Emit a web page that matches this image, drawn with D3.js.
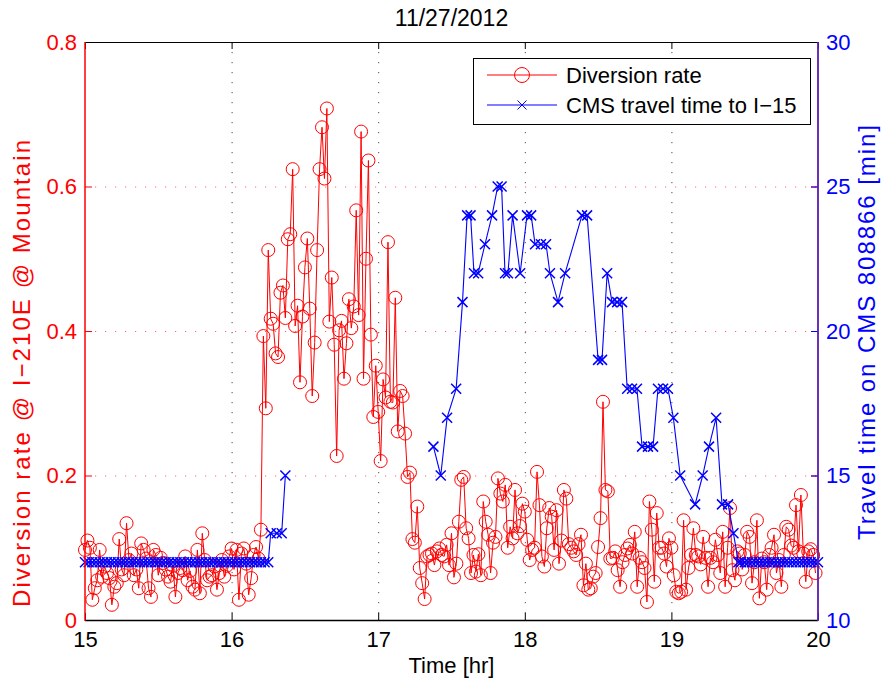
<!DOCTYPE html>
<html>
<head>
<meta charset="utf-8">
<script src="https://cdn.jsdelivr.net/npm/d3@7"></script>
<style>
  body { margin: 0; background: #fff; }
  svg text { font-family: "Liberation Sans", Arial, Helvetica, sans-serif; }
</style>
</head>
<body>
<svg id="chart" width="883" height="684"></svg>
<script>
// chart data
const chartTitle = '11/27/2012';
const startHour = 15;          // samples are minutes after 15:00

// diversion rate, one sample per minute from 15:00 to 19:59
const diversionRate = [
  0.097, 0.11, 0.1, 0.028, 0.044, 0.055, 0.097, 0.06, 0.074, 0.065,
  0.058, 0.021, 0.046, 0.051, 0.112, 0.07, 0.062, 0.134, 0.083, 0.092,
  0.062, 0.07, 0.044, 0.106, 0.097, 0.085, 0.044, 0.032, 0.097, 0.09,
  0.062, 0.086, 0.079, 0.07, 0.06, 0.053, 0.075, 0.032, 0.065, 0.072,
  0.069, 0.088, 0.055, 0.068, 0.046, 0.042, 0.097, 0.037, 0.12, 0.083,
  0.055, 0.06, 0.062, 0.074, 0.042, 0.065, 0.083, 0.06, 0.075, 0.088,
  0.099, 0.07, 0.097, 0.028, 0.092, 0.099, 0.078, 0.035, 0.058, 0.09,
  0.101, 0.085, 0.125, 0.393, 0.293, 0.512, 0.417, 0.41, 0.369, 0.364,
  0.453, 0.463, 0.418, 0.527, 0.534, 0.624, 0.407, 0.435, 0.329, 0.42,
  0.488, 0.528, 0.431, 0.31, 0.384, 0.512, 0.624, 0.682, 0.611, 0.708,
  0.413, 0.474, 0.381, 0.227, 0.401, 0.414, 0.334, 0.383, 0.444, 0.404,
  0.434, 0.567, 0.422, 0.676, 0.334, 0.5, 0.636, 0.395, 0.281, 0.352,
  0.288, 0.22, 0.333, 0.308, 0.523, 0.302, 0.301, 0.446, 0.261, 0.317,
  0.31, 0.258, 0.198, 0.204, 0.112, 0.107, 0.157, 0.072, 0.051, 0.029,
  0.088, 0.09, 0.092, 0.076, 0.095, 0.099, 0.09, 0.088, 0.104, 0.076,
  0.12, 0.059, 0.078, 0.136, 0.194, 0.198, 0.127, 0.113, 0.065, 0.09,
  0.067, 0.091, 0.062, 0.164, 0.136, 0.118, 0.065, 0.107, 0.115, 0.196,
  0.175, 0.164, 0.187, 0.1, 0.129, 0.113, 0.18, 0.12, 0.13, 0.161,
  0.15, 0.111, 0.083, 0.097, 0.1, 0.205, 0.159, 0.088, 0.074, 0.127,
  0.155, 0.143, 0.097, 0.152, 0.078, 0.11, 0.18, 0.168, 0.105, 0.1,
  0.095, 0.09, 0.105, 0.118, 0.048, 0.078, 0.042, 0.044, 0.06, 0.065,
  0.101, 0.141, 0.302, 0.18, 0.178, 0.085, 0.086, 0.095, 0.069, 0.046,
  0.08, 0.09, 0.099, 0.104, 0.092, 0.122, 0.046, 0.086, 0.08, 0.072,
  0.025, 0.164, 0.125, 0.053, 0.148, 0.1, 0.1, 0.092, 0.074, 0.113,
  0.1, 0.062, 0.039, 0.037, 0.039, 0.138, 0.042, 0.072, 0.09, 0.127,
  0.09, 0.088, 0.077, 0.115, 0.086, 0.046, 0.086, 0.08, 0.111, 0.09,
  0.065, 0.122, 0.046, 0.1, 0.155, 0.069, 0.055, 0.095, 0.092, 0.07,
  0.09, 0.122, 0.115, 0.051, 0.08, 0.138, 0.03, 0.085, 0.08, 0.042,
  0.09, 0.1, 0.118, 0.065, 0.083, 0.046, 0.09, 0.129, 0.125, 0.103,
  0.1, 0.159, 0.095, 0.173, 0.092, 0.053, 0.095, 0.098, 0.09, 0.065
];

// CMS travel time, irregular samples (minutes after 15:00); null = no data
const cmsMinutes = [
  0, 1.5, 3, 4.5, 6, 7.5, 9, 10.5, 12, 13.5,
  15, 16.5, 18, 19.5, 21, 22.5, 24, 25.5, 27, 28.5,
  30, 31.5, 33, 34.5, 36, 37.5, 39, 40.5, 42, 43.5,
  45, 46.5, 48, 49.5, 51, 52.5, 54, 55.5, 57, 58.5,
  60, 61.5, 63, 64.5, 66, 67.5, 69, 70.5, 72, 73.5,
  75,
  76, 78.5, 80.5, 82, 110,
  142.6, 145.6, 148.2, 151.9, 154.5, 156.4, 157.8, 159.2, 160.9, 163.7,
  166.6, 168.9, 170.5, 171.9, 173.1, 175, 178.1, 180.9, 182.6, 184.2,
  186.6, 188.7, 190.3, 193.6, 196.5, 203.4, 205.5, 210, 211.6, 213.7,
  215.7, 217.8, 219.8, 221.9, 223.9, 225.9, 228, 230.4, 232.5, 234.5,
  236.6, 238.6, 240.8, 243.6, 249.7, 252.8, 255.4, 258.3, 260.7, 263.2,
  265.4, 267.4,
  268.5, 270, 271.5, 273, 274.5, 276, 277.5, 279, 280.5, 282,
  283.5, 285, 286.5, 288, 289.5, 291, 292.5, 294, 295.5, 297,
  298.5, 300
];
const cmsTravelTime = [
  12, 12, 12, 12, 12, 12, 12, 12, 12, 12,
  12, 12, 12, 12, 12, 12, 12, 12, 12, 12,
  12, 12, 12, 12, 12, 12, 12, 12, 12, 12,
  12, 12, 12, 12, 12, 12, 12, 12, 12, 12,
  12, 12, 12, 12, 12, 12, 12, 12, 12, 12,
  12,
  13, 13, 13, 15, null,
  16, 15, 17, 18, 21, 24, 24, 22, 22, 23,
  24, 25, 25, 22, 22, 24, 22, 24, 24, 23,
  23, 23, 22, 21, 22, 24, 24, 19, 19, 22,
  21, 21, 21, 18, 18, 18, 16, 16, 16, 18,
  18, 18, 17, 15, 14, 15, 16, 17, 14, 14,
  13, 12,
  12, 12, 12, 12, 12, 12, 12, 12, 12, 12,
  12, 12, 12, 12, 12, 12, 12, 12, 12, 12,
  12, 12
];

const hourTicks = [15, 16, 17, 18, 19, 20];
const rateTicks = [0, 0.2, 0.4, 0.6, 0.8];
const minuteTicks = [10, 15, 20, 25, 30];
const legendNames = ['Diversion rate', 'CMS travel time to I\u221215'];
const leftLabel = 'Diversion rate @ I\u2212210E @ Mountain';
const rightLabel = 'Travel time on CMS 808866 [min]';

const RED = '#ff0000';
const BLUE = '#0000ff';
const FONT = 22;

const svg = d3.select('#chart');
const plotL = 85, plotR = 818, plotT = 42, plotB = 620;

const x = d3.scaleLinear().domain([15, 20]).range([plotL, plotR]);
const yRate = d3.scaleLinear().domain([0, 0.8]).range([plotB, plotT]);
const yTime = d3.scaleLinear().domain([10, 30]).range([plotB, plotT]);

const redPts = diversionRate.map((v, i) => ({ t: startHour + i / 60, v }));
const bluePts = cmsMinutes.map((m, i) => ({ t: startHour + m / 60, v: cmsTravelTime[i] }));

// grid (dotted)
const grid = svg.append('g');
grid.selectAll('line.gx')
  .data(hourTicks.slice(1, -1))
  .enter().append('line')
  .attr('x1', (d) => x(d) + 0.5).attr('x2', (d) => x(d) + 0.5)
  .attr('y1', plotT).attr('y2', plotB)
  .attr('stroke', '#000').attr('stroke-opacity', 0.7)
  .attr('stroke-dasharray', '1.2,8.8');
grid.selectAll('line.gy')
  .data(rateTicks.slice(1, -1))
  .enter().append('line')
  .attr('y1', (d) => yRate(d) + 0.5).attr('y2', (d) => yRate(d) + 0.5)
  .attr('x1', plotL).attr('x2', plotR)
  .attr('stroke', RED).attr('stroke-opacity', 0.6)
  .attr('stroke-dasharray', '1.2,8.8');

// diversion rate
const redLine = d3.line().x((d) => x(d.t)).y((d) => yRate(d.v));
svg.append('path')
  .datum(redPts)
  .attr('d', redLine)
  .attr('fill', 'none')
  .attr('stroke', RED)
  .attr('stroke-width', 1);
svg.append('g')
  .selectAll('circle')
  .data(redPts)
  .enter().append('circle')
  .attr('cx', (d) => x(d.t))
  .attr('cy', (d) => yRate(d.v))
  .attr('r', 6.5)
  .attr('fill', 'none')
  .attr('stroke', RED)
  .attr('stroke-width', 1);

// travel time
const blueLine = d3.line()
  .defined((d) => d.v != null)
  .x((d) => x(d.t)).y((d) => yTime(d.v));
svg.append('path')
  .datum(bluePts)
  .attr('d', blueLine)
  .attr('fill', 'none')
  .attr('stroke', BLUE)
  .attr('stroke-width', 1.1);

function crossPath(cx, cy, s) {
  return `M${cx - s},${cy - s}L${cx + s},${cy + s}M${cx - s},${cy + s}L${cx + s},${cy - s}`;
}
svg.append('g')
  .selectAll('path')
  .data(bluePts.filter((d) => d.v != null))
  .enter().append('path')
  .attr('d', (d) => crossPath(x(d.t), yTime(d.v), 5))
  .attr('stroke', BLUE)
  .attr('stroke-width', 1.5);

// axes
const bottomAxis = d3.axisBottom(x).tickValues(hourTicks).tickFormat(d3.format('d'))
  .tickSizeInner(-7).tickSizeOuter(0).tickPadding(11);
const topAxis = d3.axisTop(x).tickValues(hourTicks).tickFormat('')
  .tickSizeInner(-7).tickSizeOuter(0);
const leftAxis = d3.axisLeft(yRate).tickValues(rateTicks).tickFormat((d) => d === 0 ? '0' : d3.format('.1f')(d))
  .tickSizeInner(-7).tickSizeOuter(0).tickPadding(8);
const leftMirror = d3.axisRight(yRate).tickValues(rateTicks).tickFormat('')
  .tickSizeInner(-7).tickSizeOuter(0);
const rightAxis = d3.axisRight(yTime).tickValues(minuteTicks)
  .tickSizeInner(-7).tickSizeOuter(0).tickPadding(8);

function styleAxis(g, color) {
  g.selectAll('.domain').remove();
  g.selectAll('.tick line').attr('stroke', color);
  g.selectAll('.tick text')
    .attr('fill', color)
    .style('font-size', FONT + 'px')
    .style('font-family', '"Liberation Sans", Arial, sans-serif');
}

svg.append('g').attr('transform', `translate(0,${plotB})`).call(bottomAxis).call(styleAxis, '#000');
svg.append('g').attr('transform', `translate(0,${plotT})`).call(topAxis).call(styleAxis, '#000');
svg.append('g').attr('transform', `translate(${plotL},0)`).call(leftAxis).call(styleAxis, RED);
svg.append('g').attr('transform', `translate(${plotR},0)`).call(leftMirror).call(styleAxis, RED);
svg.append('g').attr('transform', `translate(${plotR},0)`).call(rightAxis).call(styleAxis, BLUE);

// frame
svg.append('line').attr('x1', plotL).attr('x2', plotR).attr('y1', plotT + 0.5).attr('y2', plotT + 0.5)
  .attr('stroke', '#000');
svg.append('line').attr('x1', plotL).attr('x2', plotR).attr('y1', plotB + 0.5).attr('y2', plotB + 0.5)
  .attr('stroke', '#000').attr('stroke-width', 1.3);
svg.append('line').attr('x1', plotL).attr('x2', plotL).attr('y1', plotT).attr('y2', plotB + 1)
  .attr('stroke', RED).attr('stroke-width', 1.5);
svg.append('line').attr('x1', plotR).attr('x2', plotR).attr('y1', plotT).attr('y2', plotB + 1)
  .attr('stroke', '#5a1bb0').attr('stroke-width', 1.8);

// legend
const lg = svg.append('g');
lg.append('rect')
  .attr('x', 473.5).attr('y', 58.5).attr('width', 337).attr('height', 66)
  .attr('fill', '#fff').attr('stroke', '#000');
const rows = [
  { name: legendNames[0], color: RED, y: 75 },
  { name: legendNames[1], color: BLUE, y: 105 }
];
rows.forEach((r, i) => {
  lg.append('line').attr('x1', 487).attr('x2', 557).attr('y1', r.y).attr('y2', r.y)
    .attr('stroke', r.color);
  if (i === 0) {
    lg.append('circle').attr('cx', 522).attr('cy', r.y).attr('r', 7.5)
      .attr('fill', 'none').attr('stroke', r.color);
  } else {
    lg.append('path').attr('d', crossPath(522, r.y, 4.5)).attr('stroke', r.color);
  }
  lg.append('text').attr('x', 566).attr('y', r.y + 8)
    .style('font-size', FONT + 'px')
    .attr('fill', '#000')
    .text(r.name);
});

// titles
svg.append('text')
  .attr('x', (plotL + plotR) / 2).attr('y', 26)
  .attr('text-anchor', 'middle')
  .style('font-size', '23px')
  .text(chartTitle);
svg.append('text')
  .attr('x', (plotL + plotR) / 2).attr('y', 673)
  .attr('text-anchor', 'middle')
  .style('font-size', FONT + 'px')
  .text('Time [hr]');
// rotated labels run a bit longer in the original
svg.append('text')
  .attr('transform', 'translate(30,607) rotate(-90)')
  .attr('text-anchor', 'start')
  .attr('fill', RED)
  .attr('textLength', 467)
  .attr('lengthAdjust', 'spacing')
  .style('font-size', '24px')
  .text(leftLabel);
svg.append('text')
  .attr('transform', 'translate(875,540) rotate(-90)')
  .attr('text-anchor', 'start')
  .attr('fill', BLUE)
  .attr('textLength', 415)
  .attr('lengthAdjust', 'spacing')
  .style('font-size', '24px')
  .text(rightLabel);
</script>
</body>
</html>
